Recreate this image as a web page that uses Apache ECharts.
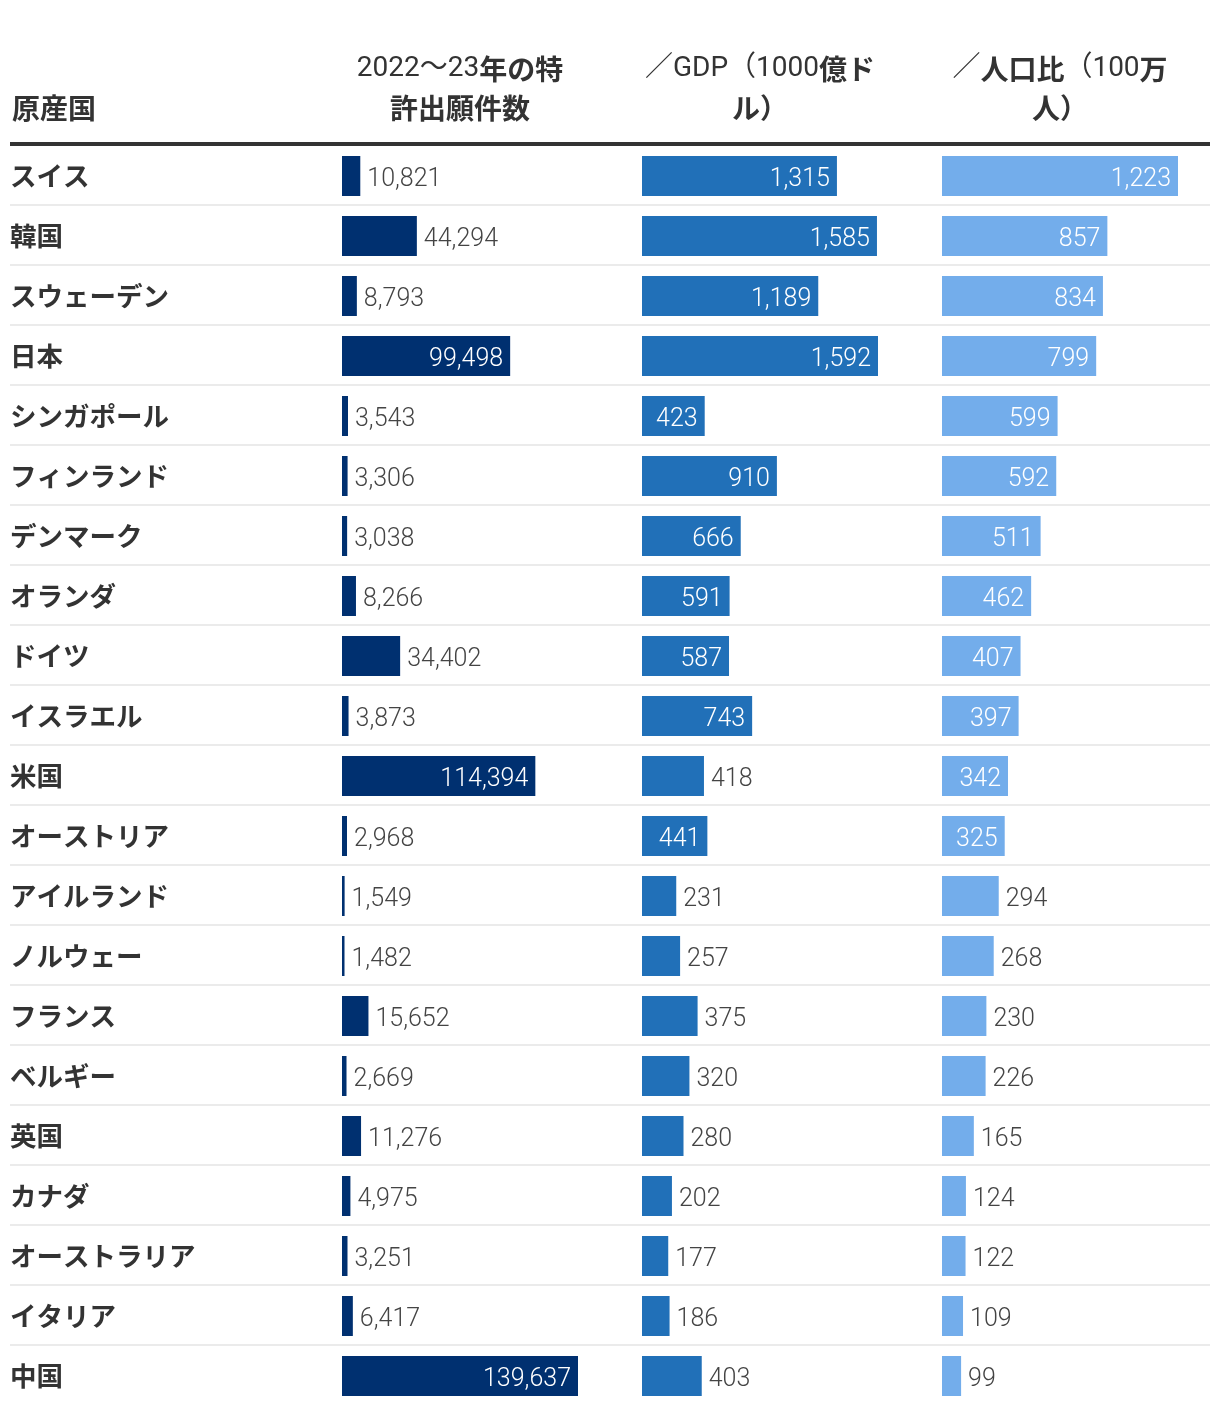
<!DOCTYPE html>
<html><head><meta charset="utf-8">
<script src="https://cdn.jsdelivr.net/npm/echarts@6/dist/echarts.min.js"></script>
<style>html,body{margin:0;padding:0;background:#fff}#c{width:1220px;height:1414px}</style>
</head><body><div id="c"></div>
<script>
const countries = ['スイス','韓国','スウェーデン','日本','シンガポール','フィンランド','デンマーク','オランダ','ドイツ','イスラエル','米国','オーストリア','アイルランド','ノルウェー','フランス','ベルギー','英国','カナダ','オーストラリア','イタリア','中国'];
const patents = [10821,44294,8793,99498,3543,3306,3038,8266,34402,3873,114394,2968,1549,1482,15652,2669,11276,4975,3251,6417,139637];
const perGDP = [1315,1585,1189,1592,423,910,666,591,587,743,418,441,231,257,375,320,280,202,177,186,403];
const perPop = [1223,857,834,799,599,592,511,462,407,397,342,325,294,268,230,226,165,124,122,109,99];
const headerCountry = '原産国';
const headerCols = [['2022〜23年の特','許出願件数'],['／GDP（1000億ド','ル）'],['／人口比（100万','人）']];

const seriesData = [patents, perGDP, perPop];
const colors = ['#003070', '#2170b8', '#73adeb'];
const insideMin = [50000, 420, 300];
const TOP = 145, ROWH = 60, N = countries.length;

const fmt = v => v.toLocaleString('en-US');

function richLine(s) {
  let out = '', cur = '', curType = null;
  for (const ch of s) {
    const t = /[\x00-\x7F〜／（]/.test(ch) ? 'n' : 'b';
    if (t !== curType && cur) { out += '{' + curType + '|' + cur + '}'; cur = ''; }
    curType = t; cur += ch;
  }
  if (cur) out += '{' + curType + '|' + cur + '}';
  return out;
}
const headRich = {
  n: {fontFamily: 'Roboto, "Noto Sans CJK JP"', fontSize: 28, fontWeight: 'normal', fill: '#333'},
  b: {fontFamily: '"Noto Sans CJK JP"', fontSize: 28, fontWeight: 'bold', fill: '#333'}
};

const grids = [], xAxes = [], yAxes = [], series = [], graphics = [];
for (let i = 0; i < 3; i++) {
  grids.push({left: 342 + 300 * i, width: 236, top: TOP + 1, height: ROWH * N});
  xAxes.push({type: 'value', gridIndex: i, min: 0, max: v => v.max, show: false});
  yAxes.push({
    type: 'category', gridIndex: i, data: countries, inverse: true,
    axisLine: {show: false}, axisTick: {show: false}, splitLine: {show: false},
    axisLabel: i === 0 ? {show: true, align: 'left', margin: 332, padding: [3, 0, 0, 0], fontFamily: '"Noto Sans CJK JP"', fontWeight: 'bold', fontSize: 26.5, color: '#333'} : {show: false}
  });
  series.push({
    type: 'bar', xAxisIndex: i, yAxisIndex: i, barWidth: 40,
    itemStyle: {color: colors[i]},
    data: seriesData[i].map(v => {
      const inside = v >= insideMin[i];
      return {value: v, label: {
        show: true, position: inside ? 'insideRight' : 'right', distance: 7, offset: [0, 4],
        color: inside ? '#fff' : '#444',
        fontFamily: 'Roboto', fontWeight: 300, fontSize: 25,
        formatter: p => fmt(p.value)
      }};
    })
  });
  headerCols[i].forEach((line, k) => {
    graphics.push({type: 'text', x: 460 + 300 * i, y: 69 + 39 * k,
      style: {text: richLine(line), rich: headRich, textAlign: 'center', textVerticalAlign: 'middle'}});
  });
}
grids.push({left: 10, width: 1200, top: TOP, height: ROWH * N});
xAxes.push({type: 'value', gridIndex: 3, min: 0, max: 1, show: false});
yAxes.push({type: 'value', gridIndex: 3, min: 0, max: N, interval: 1, inverse: true,
  axisLine: {show: false}, axisTick: {show: false}, axisLabel: {show: false},
  splitLine: {show: true, showMinLine: false, showMaxLine: false, lineStyle: {color: '#ebebeb', width: 2}}});
series.push({type: 'scatter', xAxisIndex: 3, yAxisIndex: 3, data: [], silent: true});

graphics.push({type: 'text', x: 12, y: 108,
  style: {text: headerCountry, fontFamily: '"Noto Sans CJK JP"', fontWeight: 'bold', fontSize: 28, fill: '#333', textVerticalAlign: 'middle'}});
graphics.push({type: 'rect', shape: {x: 10, y: 142, width: 1200, height: 4}, style: {fill: '#333'}, z: 10});

const chart = echarts.init(document.getElementById('c'), null, {renderer: 'canvas'});
chart.setOption({
  animation: false,
  grid: grids, xAxis: xAxes, yAxis: yAxes, series: series, graphic: graphics
});
</script>
</body></html>
